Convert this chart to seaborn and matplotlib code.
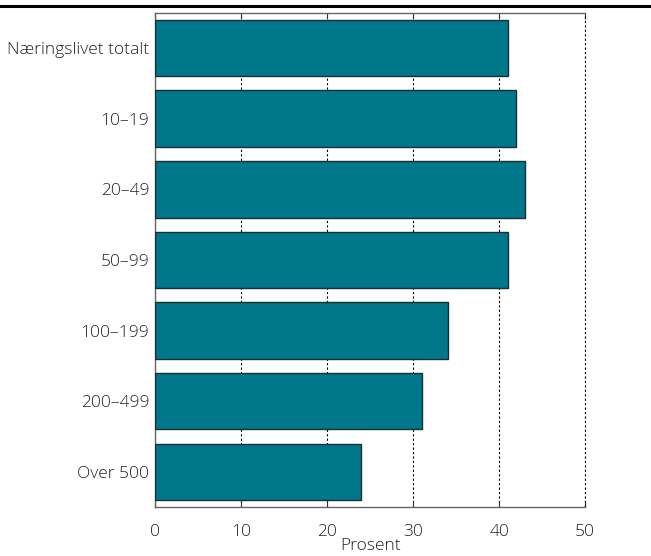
import pandas as pd
import matplotlib
matplotlib.use("Agg")
import matplotlib.pyplot as plt
import seaborn as sns

# data
categories = ["Næringslivet totalt", "10–19", "20–49", "50–99",
              "100–199", "200–499", "Over 500"]
values = [41, 42, 43, 41, 34, 31, 24]

df = pd.DataFrame({"gruppe": categories, "prosent": values})

sns.set_style("white")
plt.rcParams["font.family"] = ["Open Sans", "DejaVu Sans"]
plt.rcParams["font.weight"] = "light"
plt.rcParams["axes.labelweight"] = "light"

fig = plt.figure(figsize=(6.51, 5.56), dpi=100)
ax = fig.add_axes([0.238, 0.088, 0.661, 0.889])

sns.barplot(data=df, y="gruppe", x="prosent", color="#00778a",
            saturation=1, width=0.8, edgecolor="#1c2f33", linewidth=1,
            ax=ax, zorder=3)

ax.set_xlim(0, 50)
ax.set_ylim(6.5, -0.5)
ax.set_xticks([0, 10, 20, 30, 40, 50])
ax.xaxis.grid(True, color="black", linestyle=(0, (2, 2)), linewidth=0.8)
ax.axvline(50, color="black", linestyle=(0, (2, 2)), linewidth=0.8,
           clip_on=False, zorder=1)
ax.set_axisbelow(True)

for side in ["left", "bottom", "top"]:
    ax.spines[side].set_color("#666666")
    ax.spines[side].set_linewidth(1)
ax.spines["right"].set_visible(False)

ax.tick_params(axis="x", direction="in", top=True, bottom=True, length=4,
               color="#333333", labelsize=12.5, labelcolor="#222222", pad=12)
ax.tick_params(axis="y", length=0, labelsize=12.5, labelcolor="#222222", pad=4)

ax.set_xlabel("Prosent", fontsize=12.5, color="#222222", labelpad=-1)
ax.set_ylabel("")

# thick rule across the top of the figure
fig.add_artist(plt.Line2D([0, 1], [0.989, 0.989], color="black",
                          linewidth=2.2, transform=fig.transFigure))

fig.savefig("out.png", dpi=100)
